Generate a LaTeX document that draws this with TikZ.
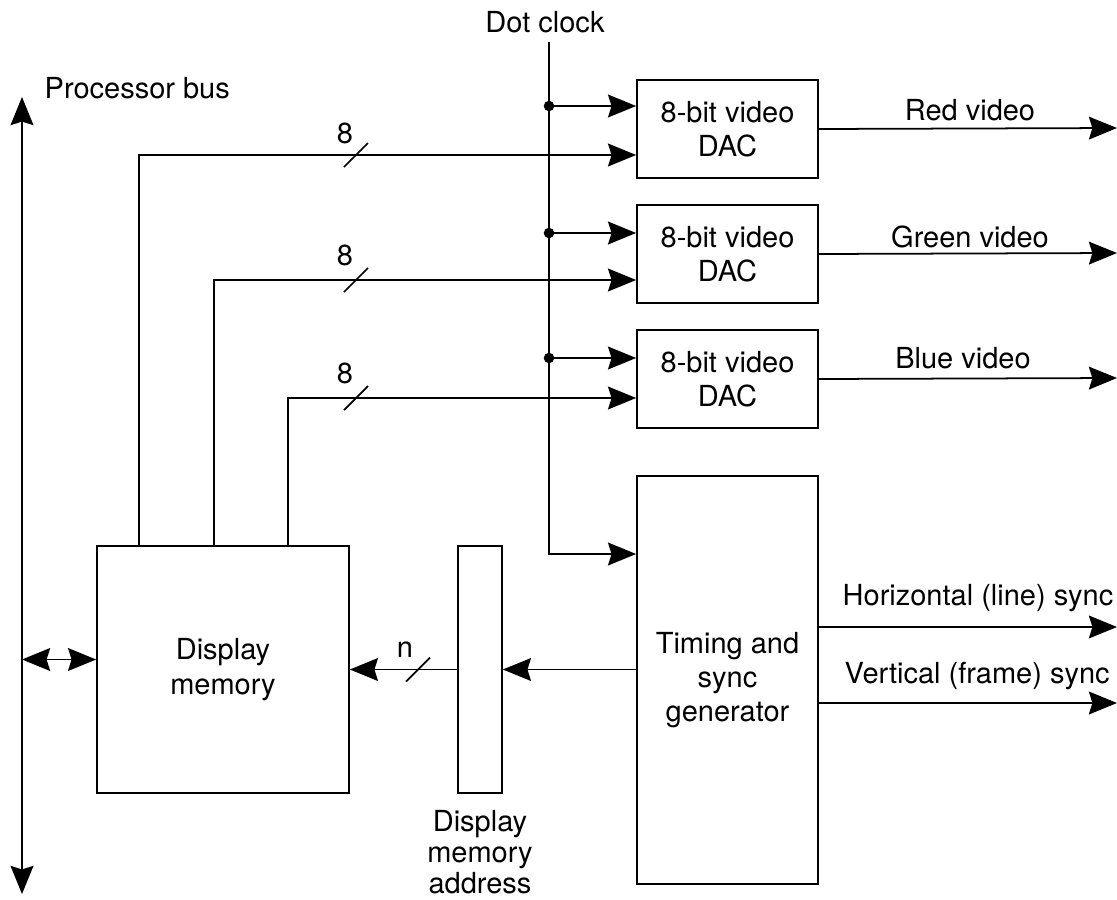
\documentclass[tikz,border=0pt]{standalone}
\usepackage{fontspec}
\setmainfont{TeX Gyre Heros}
\usetikzlibrary{arrows.meta,calc}

\tikzset{
  blk/.style={draw, line width=1pt, align=center, inner sep=0pt},
  dac/.style={blk, minimum width=3.62cm, minimum height=1.96cm},
  tip/.tip={Stealth[length=16pt,width=13pt,inset=2pt]},
  arr/.style={-tip},
  darr/.style={tip-tip}
}
\newcommand{\busslash}[1]{\draw (#1) ++(-12,12) -- ++(24,-24);}

\begin{document}
\begin{tikzpicture}[x=0.02cm, y=-0.02cm, line width=1pt,
    font=\fontsize{16.5}{19.5}\selectfont]
  \useasboundingbox (0,0) rectangle (1117,900);

  % blocks
  \node[blk, minimum width=5.04cm, minimum height=4.94cm] (mem) at (223,669.5) {Display\\memory};
  \node[blk, minimum width=0.88cm, minimum height=4.94cm] (addr) at (480,669.5) {};
  \node[blk, minimum width=3.62cm, minimum height=8.16cm] (tim) at (727.5,680) {Timing and\\sync\\generator};
  \node[dac] (dacR) at (727.5,129) {8-bit video\\DAC};
  \node[dac] (dacG) at (727.5,254) {8-bit video\\DAC};
  \node[dac] (dacB) at (727.5,379) {8-bit video\\DAC};
  \node[align=center, font=\fontsize{16.5}{17.6}\selectfont] (addrlbl) at (480,852) {Display\\memory\\address};

  % processor bus
  \coordinate (bustop) at (22,97);
  \coordinate (busbot) at (22,894);
  \draw[darr] (busbot) -- (bustop);
  \node[right] (buslbl) at (38,88) {Processor bus};
  \draw[darr] (bustop |- {$(mem.west)+(0,-10)$}) -- ($(mem.west)+(0,-10)$);

  % dot clock
  \node (clklbl) at (545,22) {Dot clock};
  \coordinate (clk) at (549,42);
  \draw[arr] (clk) |- ($(tim.west)+(0,-126)$);
  \foreach \d/\o in {dacR/-23, dacG/-21, dacB/-21} {
    \fill (clk |- {$(\d.west)+(0,\o)$}) circle (3pt);
    \draw[arr] (clk |- {$(\d.west)+(0,\o)$}) -- ($(\d.west)+(0,\o)$);
  }

  % pixel data, 8 bits each
  \draw[arr] ($(mem.north west)+(43,0)$) |- ($(dacR.west)+(0,26)$);
  \draw[arr] ($(mem.north west)+(118,0)$) |- ($(dacG.west)+(0,26)$);
  \draw[arr] ($(mem.north west)+(192,0)$) |- ($(dacB.west)+(0,19)$);
  \busslash{356,155} \busslash{356,280} \busslash{356,398}
  \node (n8r) at (345,133) {8};
  \node (n8g) at (345,255) {8};
  \node (n8b) at (345,373) {8};

  % address path
  \draw[arr] (tim.west |- addr.east) -- (addr.east);
  \draw[arr] (addr.west) -- (mem.east);
  \busslash{418,669.5}
  \node (nlbl) at (405,650) {n};

  % outputs
  \draw[arr] (dacR.east) -- (1117,128);
  \draw[arr] (dacG.east) -- (1117,253);
  \draw[arr] (dacB.east) -- (1117,378);
  \node (redlbl) at (970,110) {Red video};
  \node (grnlbl) at (970,237) {Green video};
  \node (blulbl) at (963,358) {Blue video};
  \draw[arr] ($(tim.east)+(0,-53)$) -- (1117,627);
  \draw[arr] ($(tim.east)+(0,23)$) -- (1117,703);
  \node[right] (hlbl) at (836,598) {Horizontal (line) sync};
  \node[right] (vlbl) at (838,676) {Vertical (frame) sync};
\end{tikzpicture}
\end{document}
